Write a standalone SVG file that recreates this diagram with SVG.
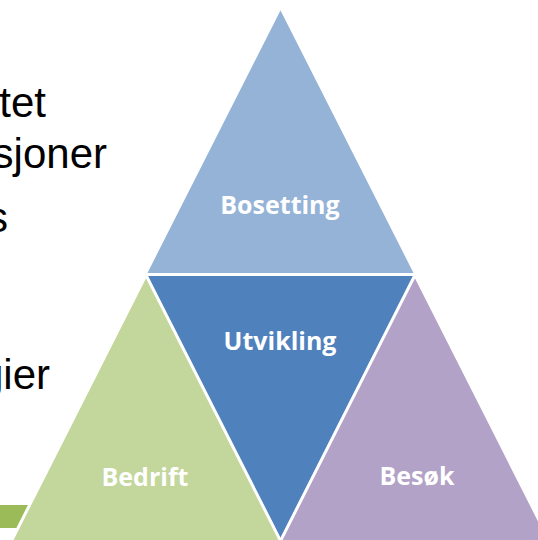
<svg xmlns="http://www.w3.org/2000/svg" width="538" height="540" viewBox="0 0 538 540">
  <style>
    .body { font-family: "Liberation Sans", Arial, sans-serif; font-size: 42px; fill: #000000; text-anchor: end; }
    .tri { stroke: #ffffff; stroke-width: 3; stroke-linejoin: miter; }
    .lbl { font-family: "Open Sans", "DejaVu Sans", sans-serif; font-weight: bold; font-size: 25px; fill: #ffffff; text-anchor: middle; }
  </style>
  <rect width="538" height="540" fill="#ffffff"/>
  <g id="left-text">
    <text class="body" x="46" y="117">tet</text>
    <text class="body" x="107" y="168">sjoner</text>
    <text class="body" x="8" y="232">s</text>
    <text class="body" x="50" y="389">gier</text>
  </g>
  <rect id="bar" x="0" y="505" width="60" height="23" fill="#9BBB59"/>
  <g id="bosetting">
    <polygon class="tri" fill="#95B3D7" points="280.5,7 145,274.5 416,274.5"/>
    <text class="lbl" x="280" y="214">Bosetting</text>
  </g>
  <g id="utvikling">
    <polygon class="tri" fill="#4F81BD" points="145,274.5 416,274.5 280.5,542"/>
    <text class="lbl" x="280" y="350">Utvikling</text>
  </g>
  <g id="bedrift">
    <polygon class="tri" fill="#C3D69B" points="146,275 9.4,545 282.6,545"/>
    <text class="lbl" x="145" y="486">Bedrift</text>
  </g>
  <g id="besok">
    <polygon class="tri" fill="#B2A2C7" points="415,275 278.4,545 551.6,545"/>
    <text class="lbl" x="417" y="485">Besøk</text>
  </g>
  <g id="connectors"></g>
</svg>
